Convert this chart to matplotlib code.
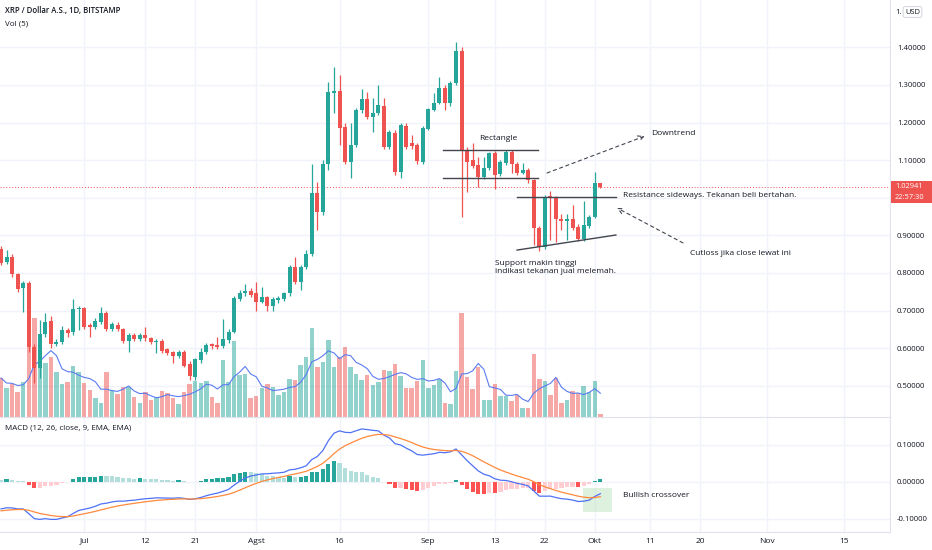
import numpy as np
import pandas as pd
import matplotlib
matplotlib.use('Agg')
import matplotlib.pyplot as plt
from matplotlib.patches import Rectangle

plt.rcParams['font.family'] = ['Open Sans', 'DejaVu Sans']

# XRP / USD daily, Bitstamp, from 2021-06-16
start = pd.Timestamp('2021-06-16')
opens = [0.864, 0.829, 0.843, 0.797, 0.760, 0.773, 0.603, 0.547, 0.638, 0.672,
         0.611, 0.616, 0.648, 0.643, 0.704, 0.707, 0.662, 0.656, 0.670, 0.694,
         0.651, 0.662, 0.651, 0.619, 0.635, 0.624, 0.635, 0.627, 0.616, 0.619,
         0.598, 0.590, 0.579, 0.590, 0.558, 0.523, 0.569, 0.590, 0.611, 0.608,
         0.606, 0.622, 0.643, 0.731, 0.747, 0.752, 0.747, 0.723, 0.736, 0.712,
         0.728, 0.731, 0.747, 0.816, 0.776, 0.816, 0.850, 1.013, 0.962, 1.090,
         1.279, 1.284, 1.188, 1.095, 1.140, 1.233, 1.263, 1.215, 1.225, 1.244,
         1.135, 1.172, 1.069, 1.191, 1.146, 1.140, 1.095, 1.183, 1.233, 1.252,
         1.292, 1.252, 1.305, 1.390, 1.127, 1.101, 1.087, 1.055, 1.079, 1.119,
         1.063, 1.093, 1.122, 1.090, 1.066, 1.074, 1.047, 0.920, 0.869, 1.005,
         1.002, 0.944, 0.938, 0.944, 0.923, 0.890, 0.925, 0.949, 1.039]
highs = [0.872, 0.861, 0.850, 0.800, 0.780, 0.780, 0.610, 0.675, 0.694, 0.685,
         0.625, 0.660, 0.655, 0.731, 0.712, 0.710, 0.667, 0.680, 0.710, 0.700,
         0.670, 0.670, 0.655, 0.640, 0.640, 0.640, 0.656, 0.630, 0.625, 0.625,
         0.600, 0.593, 0.595, 0.595, 0.565, 0.575, 0.600, 0.615, 0.615, 0.630,
         0.678, 0.650, 0.740, 0.755, 0.771, 0.760, 0.776, 0.763, 0.740, 0.735,
         0.740, 0.750, 0.820, 0.843, 0.820, 0.860, 1.090, 1.042, 1.100, 1.308,
         1.348, 1.327, 1.200, 1.200, 1.240, 1.290, 1.281, 1.265, 1.300, 1.265,
         1.180, 1.180, 1.200, 1.200, 1.167, 1.145, 1.190, 1.240, 1.279, 1.321,
         1.300, 1.310, 1.414, 1.400, 1.135, 1.146, 1.109, 1.109, 1.122, 1.125,
         1.100, 1.128, 1.127, 1.095, 1.093, 1.080, 1.050, 0.925, 1.008, 1.018,
         1.005, 0.957, 0.957, 0.981, 0.930, 0.992, 0.955, 1.069, 1.040]
lows = [0.820, 0.825, 0.790, 0.750, 0.697, 0.590, 0.507, 0.521, 0.630, 0.600,
        0.605, 0.610, 0.630, 0.635, 0.648, 0.650, 0.630, 0.650, 0.665, 0.645,
        0.645, 0.645, 0.614, 0.590, 0.620, 0.620, 0.620, 0.610, 0.587, 0.588,
        0.582, 0.561, 0.575, 0.550, 0.516, 0.515, 0.560, 0.585, 0.598, 0.598,
        0.600, 0.615, 0.640, 0.725, 0.740, 0.735, 0.700, 0.720, 0.700, 0.700,
        0.720, 0.725, 0.740, 0.770, 0.755, 0.810, 0.845, 0.914, 0.955, 1.074,
        1.225, 1.140, 1.090, 1.053, 1.135, 1.225, 1.210, 1.175, 1.220, 1.130,
        1.130, 1.060, 1.053, 1.130, 1.130, 1.090, 1.090, 1.180, 1.230, 1.250,
        1.233, 1.245, 1.300, 0.949, 1.015, 1.080, 1.029, 1.050, 1.075, 1.023,
        1.058, 1.088, 1.066, 1.060, 1.062, 1.039, 0.874, 0.859, 0.865, 0.888,
        0.882, 0.914, 0.888, 0.915, 0.885, 0.885, 0.920, 0.945, 1.027]
closes = [0.827, 0.843, 0.797, 0.757, 0.773, 0.603, 0.547, 0.638, 0.670, 0.611,
          0.616, 0.648, 0.640, 0.704, 0.707, 0.656, 0.656, 0.672, 0.694, 0.651,
          0.664, 0.651, 0.619, 0.635, 0.624, 0.635, 0.627, 0.616, 0.619, 0.593,
          0.587, 0.579, 0.590, 0.553, 0.526, 0.571, 0.590, 0.608, 0.606, 0.603,
          0.624, 0.643, 0.733, 0.747, 0.752, 0.741, 0.723, 0.736, 0.712, 0.731,
          0.733, 0.747, 0.816, 0.776, 0.816, 0.850, 1.013, 0.962, 1.090, 1.281,
          1.284, 1.186, 1.095, 1.140, 1.233, 1.263, 1.215, 1.225, 1.247, 1.135,
          1.175, 1.069, 1.194, 1.135, 1.138, 1.098, 1.186, 1.236, 1.252, 1.292,
          1.252, 1.305, 1.390, 1.127, 1.095, 1.085, 1.055, 1.079, 1.119, 1.061,
          1.095, 1.122, 1.090, 1.066, 1.074, 1.047, 0.920, 0.869, 1.002, 1.000,
          0.944, 0.938, 0.944, 0.920, 0.890, 0.928, 0.949, 1.039, 1.029]
# volume, millions XRP
volumes = [117, 87, 99, 75, 105, 210, 297, 147, 162, 180,
           135, 99, 105, 153, 135, 102, 81, 57, 42, 135,
           81, 69, 90, 90, 60, 42, 75, 51, 60, 78,
           72, 57, 39, 75, 99, 108, 102, 108, 60, 42,
           171, 105, 228, 126, 129, 57, 63, 87, 99, 90,
           66, 75, 114, 111, 156, 180, 267, 150, 165, 230,
           150, 180, 210, 150, 130, 110, 125, 96, 105, 141,
           138, 159, 123, 87, 87, 108, 171, 87, 96, 114,
           42, 39, 138, 312, 120, 84, 150, 51, 51, 99,
           63, 63, 48, 66, 27, 27, 189, 114, 108, 66,
           117, 42, 51, 78, 72, 93, 75, 108, 9]

# EMA state on the day before the first candle
ema_fast_prev = 0.880
ema_slow_prev = 0.955
signal_prev = -0.080

tick_dates = ['2021-07-01', '2021-07-12', '2021-07-21', '2021-08-01', '2021-08-16',
              '2021-09-01', '2021-09-13', '2021-09-22', '2021-10-01', '2021-10-11',
              '2021-10-20', '2021-11-01', '2021-11-15']
tick_labels = ['Jul', '12', '21', 'Agst', '16', 'Sep', '13', '22', 'Okt', '11', '20', 'Nov', '15']
price_ticks = [0.5, 0.6, 0.7, 0.8, 0.9, 1.0, 1.1, 1.2, 1.3, 1.4]
macd_ticks = [-0.1, 0.0, 0.1]
last_price = 1.02941

UP, DOWN = '#26a69a', '#ef5350'
TXT = '#131722'
GRID = '#f0f3fa'
LINE = '#434651'

o = np.array(opens); h = np.array(highs); l = np.array(lows); c = np.array(closes)
v = np.array(volumes, dtype=float)
x = np.arange(len(c))
up = c >= o
colors = np.where(up, UP, DOWN)


def ema(vals, span, prev):
    a = 2.0 / (span + 1)
    out = []
    for val in vals:
        prev = a * val + (1 - a) * prev
        out.append(prev)
    return np.array(out)


macd = ema(c, 12, ema_fast_prev) - ema(c, 26, ema_slow_prev)
signal = ema(macd, 9, signal_prev)
hist = macd - signal
hist_prev = np.concatenate([[hist[0]], hist[:-1]])
hist_colors = np.where(hist >= 0,
                       np.where(hist > hist_prev, '#26a69a', '#b2dfdb'),
                       np.where(hist > hist_prev, '#ffcdd2', '#ff5252'))
vol_ma = pd.Series(v).rolling(5, min_periods=1).mean()

tick_pos = [(pd.Timestamp(t) - start).days for t in tick_dates]

W, H = 932, 550
fig = plt.figure(figsize=(W / 100, H / 100), dpi=100)
fig.patch.set_facecolor('white')
right = 890 / W
rect_main = [0, (H - 417) / H, right, 417 / H]
axg = fig.add_axes(rect_main)          # grid only, lies behind everything
axv = fig.add_axes(rect_main, sharex=axg)   # volume overlay
ax = fig.add_axes(rect_main, sharex=axg, sharey=axg)   # candles + price scale
axm = fig.add_axes([0, (H - 532) / H, right, 115 / H], sharex=axg)
axg.set_zorder(0); axv.set_zorder(1); ax.set_zorder(2)
for a in (axv, ax):
    a.patch.set_visible(False)

# volume
axv.bar(x, v, width=0.8, color=colors, alpha=0.5, linewidth=0)
axv.plot(x, vol_ma, color='#5b7cf2', lw=0.8)
axv.set_ylim(0, v.max() * 4.01)
axv.axis('off')

# candles
ax.vlines(x, l, h, colors=colors, lw=0.9, zorder=3)
body = np.maximum(np.abs(c - o), 0.002)
ax.bar(x, body, bottom=np.minimum(o, c), width=0.72, color=colors, linewidth=0, zorder=4)
ax.axhline(last_price, color=DOWN, lw=0.7, ls=(0, (1, 2)), zorder=2)

axg.set_ylim(1.52606 - 417 / 376, 1.52606)
axg.set_xlim(-0.18, 160.2)
axg.set_yticks(price_ticks + [1.5])
axg.set_xticks(tick_pos)
axg.grid(True, color=GRID, lw=1)
axg.tick_params(left=False, bottom=False, labelleft=False, labelbottom=False)
for s in axg.spines.values():
    s.set_visible(False)

# the 1.00000 label sits under the last-price tag, so it is left blank
ax.set_yticks(price_ticks)
ax.set_yticklabels(['' if abs(p - last_price) < 0.05 else '%.5f' % p for p in price_ticks])

# drawings
kw = dict(color=LINE, lw=1.0, zorder=5)
ax.plot([79.6, 96.8], [1.127, 1.127], **kw)
ax.plot([79.6, 96.8], [1.053, 1.053], **kw)
ax.plot([93.0, 110.8], [1.002, 1.002], **kw)
ax.plot([93.0, 110.8], [0.861, 0.901], **kw)
fs = 6.0
ax.text(86.1, 1.159, 'Rectangle', fontsize=fs, color=TXT, va='center', zorder=6)
ax.text(89.0, 0.815, 'Support makin tinggi\nindikasi tekanan jual melemah.', fontsize=fs,
        color=TXT, va='center', linespacing=1.15, zorder=6)
ax.text(112.1, 1.005, 'Resistance sideways. Tekanan beli bertahan.', fontsize=fs,
        color=TXT, va='center', zorder=6)
ax.text(117.1, 1.172, 'Downtrend', fontsize=fs, color=TXT, va='center', zorder=6)
ax.text(124.1, 0.853, 'Cutloss jika close lewat ini', fontsize=fs, color=TXT, va='center', zorder=6)
arr = dict(arrowstyle='->', color=LINE, lw=0.8, linestyle=(0, (3, 3)), shrinkA=0, shrinkB=0)
ax.annotate('', xy=(116.0, 1.164), xytext=(98.4, 1.066), arrowprops=arr, zorder=6)
ax.annotate('', xy=(111.0, 0.973), xytext=(122.9, 0.880), arrowprops=arr, zorder=6)

# MACD pane
axm.bar(x, hist, width=0.75, color=hist_colors, linewidth=0, zorder=2)
axm.plot(x, macd, color='#4f72f5', lw=0.9, zorder=3)
axm.plot(x, signal, color='#ff8a3d', lw=0.9, zorder=3)
axm.add_patch(Rectangle((104.9, -0.082), 5.2, 0.065, facecolor='#c8e6c9', alpha=0.6,
                        edgecolor='none', zorder=1))
axm.text(112.1, -0.036, 'Bullish crossover', fontsize=fs, color=TXT, va='center')
axm.set_ylim((481.7 - 532) / 370, (481.7 - 417) / 370)
axm.set_yticks(macd_ticks)
axm.set_yticklabels(['%.5f' % t if t != 0 else '0.00000' for t in macd_ticks])
axm.set_xticks(tick_pos)
axm.set_xticklabels(tick_labels)
axm.grid(True, color=GRID, lw=1)
axm.set_axisbelow(True)

for a in (ax, axm):
    a.yaxis.tick_right()
    a.tick_params(axis='y', length=0, labelsize=5.6, labelcolor=TXT, pad=5)
    a.tick_params(axis='x', length=0, labelsize=6.0, labelcolor=TXT, pad=4)
    for s in a.spines.values():
        s.set_visible(False)
    a.spines['right'].set_visible(True)
    a.spines['right'].set_color('#e0e3eb')
    a.spines['bottom'].set_visible(True)
    a.spines['bottom'].set_color('#e0e3eb')
ax.tick_params(axis='x', labelbottom=False)

# header texts
fig.text(5 / W, 1 - 11 / H, 'XRP / Dollar A.S., 1D, BITSTAMP', fontsize=5.6, color=TXT,
         fontweight='semibold', va='center')
fig.text(5 / W, 1 - 24 / H, 'Vol (5)', fontsize=5.8, color=TXT, va='center')
fig.text(5 / W, 1 - 428 / H, 'MACD (12, 26, close, 9, EMA, EMA)', fontsize=5.8, color=TXT, va='center')

# last price tag on the scale
fig.patches.append(Rectangle((891 / W, 1 - 203 / H), 41 / W, 22 / H, transform=fig.transFigure,
                             facecolor=DOWN, edgecolor='none', zorder=10))
fig.text(895 / W, 1 - 186.5 / H, '%.5f' % last_price, fontsize=5.4, color='white', va='center', zorder=11)
fig.text(895 / W, 1 - 197.5 / H, '22:57:30', fontsize=5.4, color='white', va='center', zorder=11)
fig.text(895 / W, 1 - 12 / H, '1.', fontsize=5.6, color=TXT, va='center', zorder=11)
fig.text(905 / W, 1 - 12 / H, 'USD', fontsize=5.4, color=TXT, va='center', zorder=11,
         bbox=dict(boxstyle='round,pad=0.25', facecolor='white', edgecolor='#d1d4dc', lw=0.7))

fig.savefig('out.png', dpi=100, facecolor='white')
